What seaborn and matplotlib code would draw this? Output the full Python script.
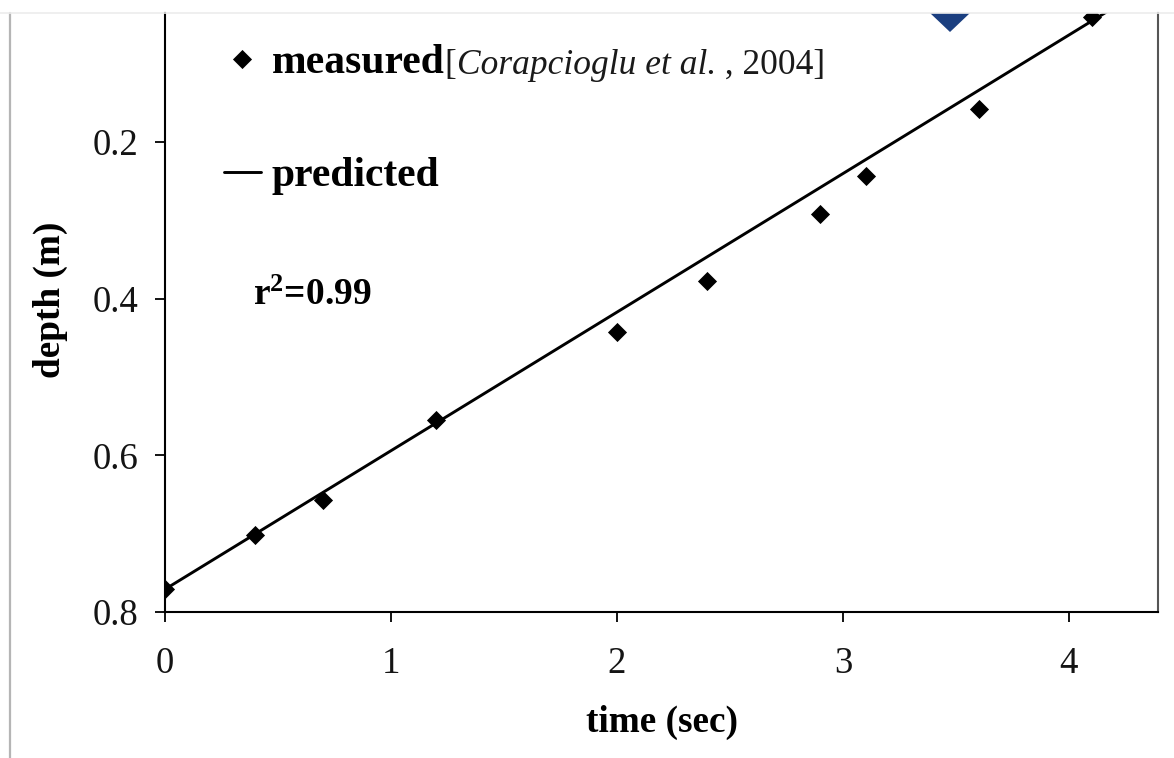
import matplotlib
matplotlib.use("Agg")
import matplotlib.pyplot as plt
from matplotlib.patches import Polygon
from matplotlib.lines import Line2D
import seaborn as sns
import pandas as pd

# ---- data ----
measured_time = [0.0, 0.4, 0.7, 1.2, 2.0, 2.4, 2.9, 3.1, 3.6, 4.1]
measured_depth = [0.771, 0.702, 0.657, 0.555, 0.443, 0.377, 0.292, 0.243, 0.158, 0.040]
predicted_time = [0.0, 4.2]
predicted_depth = [0.771, 0.028]
x_ticks = [0, 1, 2, 3, 4]
y_ticks = [0.2, 0.4, 0.6, 0.8]
y_tick_labels = ["0.2", "0.4", "0.6", "0.8"]

sns.set_theme(style="ticks")
plt.rcParams["font.family"] = ["Liberation Serif", "DejaVu Serif"]
plt.rcParams["mathtext.fontset"] = "custom"
plt.rcParams["mathtext.rm"] = "Liberation Serif:bold"
plt.rcParams["mathtext.bf"] = "Liberation Serif:bold"
plt.rcParams["mathtext.it"] = "Liberation Serif:italic"
plt.rcParams["text.color"] = "black"
plt.rcParams["axes.labelcolor"] = "black"

W, H = 1174, 758
fig = plt.figure(figsize=(W / 100, H / 100), dpi=100)
fig.patch.set_facecolor("white")

ax_left, ax_right, ax_top, ax_bottom = 165, 1158, 13, 612
ax = fig.add_axes([ax_left / W, 1 - ax_bottom / H,
                   (ax_right - ax_left) / W, (ax_bottom - ax_top) / H])
ax.set_facecolor("white")

meas_df = pd.DataFrame({"time": measured_time, "depth": measured_depth})
pred_df = pd.DataFrame({"time": predicted_time, "depth": predicted_depth})

sns.lineplot(data=pred_df, x="time", y="depth", color="black", linewidth=2.1,
             label="predicted", ax=ax, zorder=2)
sns.scatterplot(data=meas_df, x="time", y="depth", marker="D", color="black",
                s=95, linewidth=0, label="measured", ax=ax, zorder=3)

ax.set_xlim(0, 4.394)
ax.set_ylim(0.8, 0.0353)
ax.set_xticks(x_ticks)
ax.set_xticklabels([str(t) for t in x_ticks])
ax.set_yticks(y_ticks)
ax.set_yticklabels(y_tick_labels)
ax.tick_params(axis="both", direction="out", length=7, width=1.3, color="black",
               labelsize=26.5, labelcolor="#141414")
ax.tick_params(axis="y", pad=12)
ax.tick_params(axis="x", pad=18)

for side in ["left", "bottom", "right"]:
    ax.spines[side].set_visible(True)
    ax.spines[side].set_color("black")
    ax.spines[side].set_linewidth(1.5)
ax.spines["right"].set_color("#555555")
ax.spines["top"].set_visible(False)

ax.set_xlabel("time (sec)", fontsize=26.8, fontweight="bold", labelpad=17,
              color="black")
ax.set_ylabel("depth (m)", fontsize=26.8, fontweight="bold", color="black")
ax.yaxis.set_label_coords((68 - ax_left) / (ax_right - ax_left),
                          (ax_bottom - 300) / (ax_bottom - ax_top))

# legend
handles, labels = ax.get_legend_handles_labels()
order = [labels.index("measured"), labels.index("predicted")]
leg = ax.legend([handles[i] for i in order], [labels[i] for i in order],
                loc="upper left", bbox_to_anchor=(224 / W, 1 - 44 / H),
                bbox_transform=fig.transFigure, frameon=False,
                prop={"family": "Liberation Serif", "weight": "bold", "size": 30},
                handlelength=0.88, handletextpad=0.27, labelspacing=1.8,
                borderpad=0, borderaxespad=0, scatteryoffsets=[0.5],
                markerscale=1.0, labelcolor="black")
leg.set_zorder(2.5)
meas_text = leg.get_texts()[0]

# citation appended to the "measured" entry
a1 = ax.annotate("[", xy=(1, 0), xycoords=meas_text, va="bottom", ha="left",
                 fontsize=25.5, color="#1a1a1a", zorder=6)
a2 = ax.annotate("Corapcioglu et al.", xy=(1, 0), xycoords=a1, va="bottom",
                 ha="left", fontsize=25.5, style="italic", color="#1a1a1a", zorder=7)
a3 = ax.annotate(" , 2004]", xy=(1, 0), xycoords=a2, va="bottom", ha="left",
                 fontsize=25.5, color="#1a1a1a", zorder=8)

ax.text((253 - ax_left) / (ax_right - ax_left), (ax_bottom - 305) / (ax_bottom - ax_top),
        r"r$^{\mathbf{2}}$=0.99", transform=ax.transAxes, fontsize=27,
        fontweight="bold", va="baseline", ha="left", color="black")

# page decorations around the screenshot crop
fig.add_artist(Line2D([10 / W, 10 / W], [0, 1 - 13 / H], transform=fig.transFigure,
                      color="#b5b5b5", linewidth=1.6))
fig.add_artist(Line2D([0, 1], [1 - 13 / H, 1 - 13 / H], transform=fig.transFigure,
                      color="#ececec", linewidth=1.2))
fig.add_artist(Polygon([[930 / W, 1 - 13 / H], [970 / W, 1 - 13 / H], [950 / W, 1 - 32 / H]],
                       closed=True, transform=fig.transFigure, facecolor="#1b3f80",
                       edgecolor="none"))

fig.canvas.draw()
fig.savefig("out.png", dpi=100, facecolor="white")
